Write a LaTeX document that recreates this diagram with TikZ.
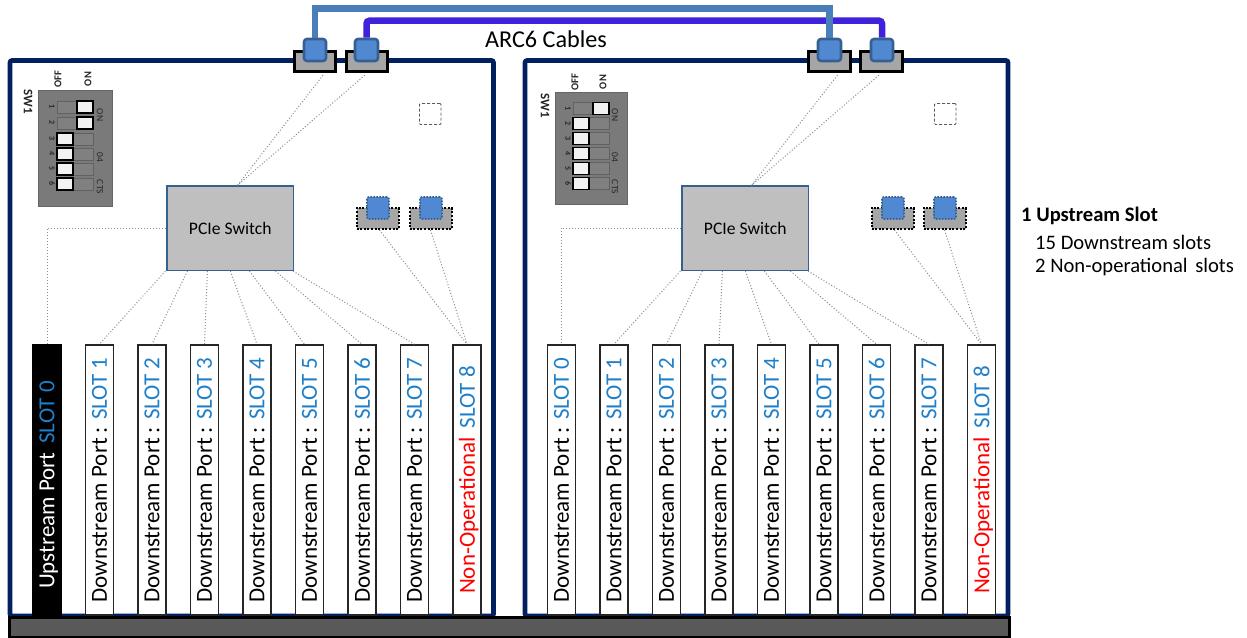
\documentclass[tikz,border=0pt]{standalone}
\usepackage{fontspec}
\setmainfont{Carlito}
\definecolor{navy}{HTML}{002060}
\definecolor{slotblue}{HTML}{1F7FC8}
\definecolor{cableA}{HTML}{4A7EBB}
\definecolor{cableB}{HTML}{3F22DC}
\definecolor{connblue}{HTML}{5088D2}
\definecolor{connedge}{HTML}{376092}
\newcommand{\bx}[7]{\node[#2,minimum width={(#5-#3)*1pt},minimum height={(#6-#4)*1pt}] (#1) at ({(#3+#5)/2},{(#4+#6)/2}) {#7};}
\newcommand{\vtext}[2]{\rotatebox{90}{\raisebox{0pt}[\height][0pt]{\fontsize{#1}{#1}\selectfont #2}}}
\newcommand{\dnlabel}[1]{\vtext{23}{\textcolor{black}{Downstream Port : }\textcolor{slotblue}{SLOT #1}}}
\newcommand{\nolabel}{\vtext{23}{\textcolor{red}{Non-Operational}\hspace{9pt}\textcolor{slotblue}{SLOT 8}}}
\newcommand{\diprow}[5]{%
  \node[track,minimum width=36pt] (#1t) at ({#2+18},#3) {};
  \ifnum#4=1 \node[toggle] (#1k) at ({#2+28},#3) {};
  \else \node[toggle] (#1k) at ({#2+8},#3) {};\fi
  \node[diptxt,font=\bfseries\fontsize{8}{8}\selectfont,rotate=-90] (#1n) at ({#2-5},#3) {#5};}
\tikzset{
  panel/.style={draw=navy,line width=4.6pt,rounded corners=2pt,fill=white,inner sep=0},
  slotbox/.style={draw=black!85,line width=1.5pt,fill=white,inner sep=0},
  blackslot/.style={fill=black,draw=black},
  bar/.style={draw=black,line width=3pt,fill=black!65,inner sep=0},
  gconn/.style={draw=black,line width=3.4pt,fill=black!35,inner sep=0},
  bconn/.style={draw=connedge,line width=2.6pt,fill=connblue,rounded corners=3pt,inner sep=0},
  gdot/.style={draw=black,line width=2pt,dash pattern=on 2pt off 1.6pt,fill=black!35,inner sep=0},
  bdot/.style={draw=connedge,line width=1.6pt,dash pattern=on 1.6pt off 1.4pt,fill=connblue,rounded corners=2pt,inner sep=0},
  ghost/.style={draw=black!65,line width=.9pt,dash pattern=on 3pt off 2pt,inner sep=0,rounded corners=1pt},
  pcie/.style={draw=connedge,line width=1.2pt,fill=black!25,inner sep=0,font=\fontsize{17.6}{17.6}\selectfont},
  link/.style={draw=black!45,line width=1pt,dotted},
  dipbox/.style={draw=black!60,line width=.8pt,fill=black!52,inner sep=0},
  track/.style={draw=black!62,line width=.7pt,fill=black!50,minimum height=12pt,inner sep=0},
  toggle/.style={draw=black,line width=1.3pt,fill=black!5,minimum width=16pt,minimum height=12pt,inner sep=0},
  diptxt/.style={font=\fontsize{9.5}{9.5}\selectfont,text=black!85,inner sep=0},
  dipbold/.style={font=\bfseries\fontsize{10.5}{10.5}\selectfont,text=black!85,inner sep=0},
  cA/.style={draw=cableA,line width=6.5pt,line join=miter},
  cB/.style={draw=cableB,line width=6.5pt,rounded corners=3pt},
  legend/.style={anchor=west,inner sep=0,font=\fontsize{20.6}{20.6}\selectfont},
}
\begin{document}
\begin{tikzpicture}[x=1pt,y=-1pt]
\useasboundingbox (0,0) rectangle (1247,637);
% panels
\bx{panL}{panel}{10}{60.5}{493.5}{616}{}
\bx{panR}{panel}{525}{60.5}{1008}{616}{}
\bx{base}{bar}{9.5}{617.5}{1009}{637}{}
% top connectors
\bx{gL1}{gconn}{294.5}{51.5}{335.5}{71.5}{}
\bx{gL2}{gconn}{346.5}{51.5}{387.5}{71.5}{}
\bx{gR1}{gconn}{808.5}{51.5}{850.5}{71.5}{}
\bx{gR2}{gconn}{860.5}{51.5}{902.5}{71.5}{}
\bx{bL1}{bconn}{304}{39}{326}{61}{}
\bx{bL2}{bconn}{355}{39}{378}{61}{}
\bx{bR1}{bconn}{818}{39}{841}{61}{}
\bx{bR2}{bconn}{871}{39}{893}{61}{}
% cables
\draw[cB] (bL2.north) -- ++(0,-17) -| (bR2.north);
\draw[cA] (bL1.north) -- ++(0,-29) -| (bR1.north);
\node[inner sep=0,font=\fontsize{24.2}{24.2}\selectfont] (arc) at (546,39.5) {ARC6 Cables};
% ghosts
\bx{ghL}{ghost}{419.5}{103.5}{441}{124.5}{}
\bx{ghR}{ghost}{934.5}{103.5}{956}{124.5}{}
% PCIe
\bx{swL}{pcie}{167}{186}{293.5}{270.5}{PCIe Switch}
\bx{swR}{pcie}{682}{186}{808.5}{270.5}{PCIe Switch}
% non-operational connectors
\bx{nL1}{gdot}{356.5}{208}{398.5}{229}{}
\bx{nL2}{gdot}{409.5}{208}{451.5}{229}{}
\bx{nR1}{gdot}{871.5}{208}{913.5}{229}{}
\bx{nR2}{gdot}{923.5}{208}{965.5}{229}{}
\bx{mL1}{bdot}{367}{197}{389}{219}{}
\bx{mL2}{bdot}{420}{197}{442}{219}{}
\bx{mR1}{bdot}{882}{197}{904}{219}{}
\bx{mR2}{bdot}{934}{197}{956}{219}{}
% slots
\bx{L0}{slotbox,blackslot}{33}{345}{61}{615}{\vtext{23}{\textcolor{white}{Upstream Port}\hspace{9pt}\textcolor{slotblue}{SLOT 0}\hspace{10pt}}}
\bx{L1}{slotbox}{85.5}{345}{113.5}{615}{\dnlabel{1}}
\bx{L2}{slotbox}{138}{345}{166}{615}{\dnlabel{2}}
\bx{L3}{slotbox}{190.5}{345}{218.5}{615}{\dnlabel{3}}
\bx{L4}{slotbox}{243}{345}{271}{615}{\dnlabel{4}}
\bx{L5}{slotbox}{295.5}{345}{323.5}{615}{\dnlabel{5}}
\bx{L6}{slotbox}{348}{345}{376}{615}{\dnlabel{6}}
\bx{L7}{slotbox}{400.5}{345}{428.5}{615}{\dnlabel{7}}
\bx{L8}{slotbox}{453}{345}{481}{615}{\nolabel}
\bx{R0}{slotbox}{547.5}{345}{575.5}{615}{\dnlabel{0}}
\bx{R1}{slotbox}{600}{345}{628}{615}{\dnlabel{1}}
\bx{R2}{slotbox}{652.5}{345}{680.5}{615}{\dnlabel{2}}
\bx{R3}{slotbox}{705}{345}{733}{615}{\dnlabel{3}}
\bx{R4}{slotbox}{757.5}{345}{785.5}{615}{\dnlabel{4}}
\bx{R5}{slotbox}{810}{345}{838}{615}{\dnlabel{5}}
\bx{R6}{slotbox}{862.5}{345}{890.5}{615}{\dnlabel{6}}
\bx{R7}{slotbox}{915}{345}{943}{615}{\dnlabel{7}}
\bx{R8}{slotbox}{967.5}{345}{995.5}{615}{\nolabel}
% links left
\draw[link] ([xshift=8pt,yshift=-2pt]gL1.south) -- ([xshift=71pt]swL.north west);
\draw[link] ([xshift=20pt,yshift=-2pt]gL2.south west) -- ([xshift=71pt]swL.north west);
\draw[link] (swL.west) -- (L0.north |- swL.west) -- (L0.north);
\draw[link] ([xshift=-1pt]swL.south west) -- (L1.north);
\draw[link] ([xshift=21pt]swL.south west) -- (L2.north);
\draw[link] ([xshift=41pt]swL.south west) -- (L3.north);
\draw[link] ([xshift=64pt]swL.south west) -- (L4.north);
\draw[link] ([xshift=83pt]swL.south west) -- ([xshift=-5pt]L5.north);
\draw[link] ([xshift=109pt]swL.south west) -- (L6.north);
\draw[link] ([xshift=-1pt]swL.south east) -- (L7.north);
\draw[link] ([xshift=2pt]nL1.south) -- (L8.north);
\draw[link] (nL2.south) -- (L8.north);
% links right
\draw[link] ([xshift=8pt,yshift=-2pt]gR1.south) -- ([xshift=70pt]swR.north west);
\draw[link] ([xshift=20pt,yshift=-2pt]gR2.south west) -- ([xshift=70pt]swR.north west);
\draw[link] (swR.west) -- (R0.north |- swR.west) -- (R0.north);
\draw[link] ([xshift=-1pt]swR.south west) -- (R1.north);
\draw[link] ([xshift=21pt]swR.south west) -- (R2.north);
\draw[link] ([xshift=41pt]swR.south west) -- (R3.north);
\draw[link] ([xshift=64pt]swR.south west) -- (R4.north);
\draw[link] ([xshift=83pt]swR.south west) -- ([xshift=-5pt]R5.north);
\draw[link] ([xshift=109pt]swR.south west) -- (R6.north);
\draw[link] ([xshift=-1pt]swR.south east) -- (R7.north);
\draw[link] ([xshift=2pt]nR1.south) -- (R8.north);
\draw[link] (nR2.south) -- (R8.north);
% DIP left
\bx{dipL}{dipbox}{38}{90}{112}{206}{}
\diprow{a1}{57}{107}{1}{1}
\diprow{a2}{57}{123}{1}{2}
\diprow{a3}{57}{139}{0}{3}
\diprow{a4}{57}{154}{0}{4}
\diprow{a5}{57}{169}{0}{5}
\diprow{a6}{57}{184}{0}{6}
\node[diptxt,rotate=-90] (aON) at (100,115) {ON};
\node[diptxt,rotate=-90] (a04) at (100,157) {04};
\node[diptxt,rotate=-90] (aCTS) at (100,187) {CTS};
\node[dipbold,font=\bfseries\fontsize{13}{13}\selectfont,rotate=-90] (aSW) at (28,102) {SW1};
\node[dipbold,rotate=90] (aOFF) at (58,79) {OFF};
\node[dipbold,rotate=90] (aONt) at (88,79) {ON};
% DIP right
\bx{dipR}{dipbox}{555}{92}{627}{204}{}
\diprow{b1}{573}{108.7}{1}{1}
\diprow{b2}{573}{123.7}{0}{2}
\diprow{b3}{573}{138.5}{0}{3}
\diprow{b4}{573}{153.3}{0}{4}
\diprow{b5}{573}{168.3}{0}{5}
\diprow{b6}{573}{183.3}{0}{6}
\node[diptxt,rotate=-90] (bON) at (615,115) {ON};
\node[diptxt,rotate=-90] (b04) at (615,157) {04};
\node[diptxt,rotate=-90] (bCTS) at (615,187) {CTS};
\node[dipbold,font=\bfseries\fontsize{13}{13}\selectfont,rotate=-90] (bSW) at (545,106) {SW1};
\node[dipbold,rotate=90] (bOFF) at (575,82) {OFF};
\node[dipbold,rotate=90] (bONt) at (603,82) {ON};
% legend
\node[legend,font=\bfseries\fontsize{20.6}{20.6}\selectfont] (lg1) at (1021,216) {1 Upstream Slot};
\node[legend] (lg2) at (1035,242) {15 Downstream slots};
\node[legend] (lg3) at (1035,267) {2 Non-operational\hspace{3pt} slots};
\end{tikzpicture}
\end{document}
